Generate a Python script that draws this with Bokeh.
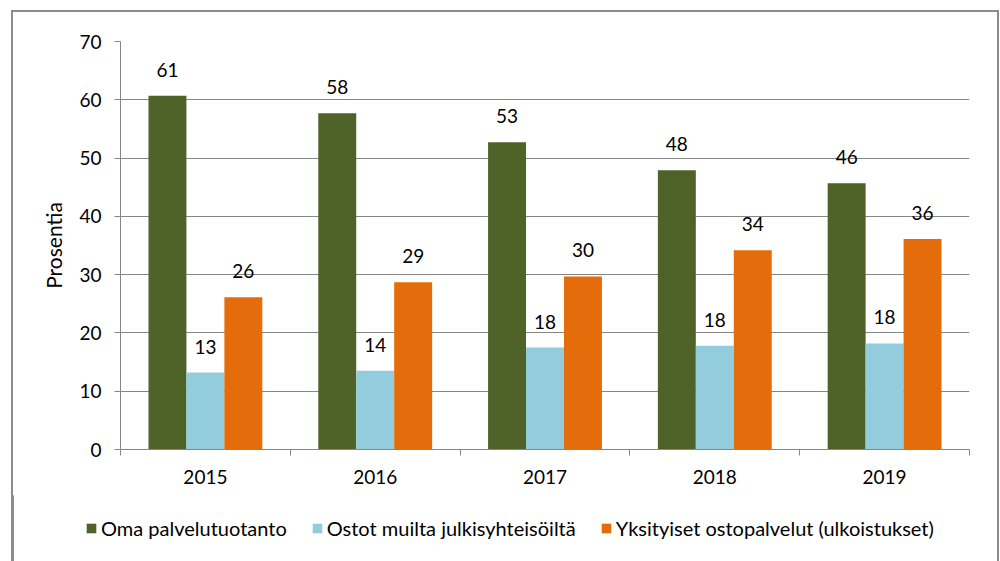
from bokeh.plotting import figure
from bokeh.layouts import column
from bokeh.models import ColumnDataSource, FixedTicker, Legend, LegendItem
from bokeh.core.properties import value
from bokeh.embed import file_html
from bokeh.resources import INLINE

# ---- data ----
years = ["2015", "2016", "2017", "2018", "2019"]
oma = [60.7, 57.7, 52.7, 47.9, 45.7]
ostot = [13.2, 13.5, 17.5, 17.8, 18.2]
yksityiset = [26.1, 28.7, 29.7, 34.2, 36.1]
oma_labels = ["61", "58", "53", "48", "46"]
ostot_labels = ["13", "14", "18", "18", "18"]
yks_labels = ["26", "29", "30", "34", "36"]
series_names = ["Oma palvelutuotanto", "Ostot muilta julkisyhteisöiltä",
                "Yksityiset ostopalvelut (ulkoistukset)"]
colors = ["#4F6228", "#93CDDD", "#E46C0A"]
y_ticks = [0, 10, 20, 30, 40, 50, 60, 70]
y_label = "Prosentia"

FONT = "Lato"
FS = "19px"
GRAY = "#868686"

p = figure(width=984, height=483, x_range=(-0.5, 4.5), y_range=(0, 70),
           output_backend="svg", toolbar_location=None,
           min_border_left=107, min_border_right=28, min_border_top=29,
           min_border_bottom=46)
p.frame_align = False
p.outline_line_color = None
p.xgrid.grid_line_color = None
p.ygrid.grid_line_color = GRAY
p.ygrid.grid_line_width = 1

bw = 0.2235
offsets = [-bw, 0.0, bw]
series_vals = [oma, ostot, yksityiset]
series_labels = [oma_labels, ostot_labels, yks_labels]

for vals, labs, off, col in zip(series_vals, series_labels, offsets, colors):
    src = ColumnDataSource(dict(x=[i + off for i in range(len(years))], top=vals, lab=labs))
    p.vbar(x="x", top="top", width=bw, bottom=0, source=src,
           fill_color=col, line_color=None)
    p.text(x="x", y="top", text="lab", source=src, text_align="center",
           text_baseline="alphabetic", y_offset=-26,
           text_font=value(FONT), text_font_size=FS, text_color="#000000")

# x axis
xa = p.xaxis[0]
xa.ticker = FixedTicker(ticks=list(range(len(years))),
                        minor_ticks=[i - 0.5 for i in range(len(years) + 1)])
xa.major_label_overrides = {i: y for i, y in enumerate(years)}
xa.major_tick_line_color = None
xa.major_tick_out = 6
xa.major_tick_in = 0
xa.minor_tick_line_color = GRAY
xa.minor_tick_out = 6
xa.minor_tick_in = 0
xa.axis_line_color = GRAY
xa.major_label_text_font = FONT
xa.major_label_text_font_size = FS
xa.major_label_text_color = "#000000"
xa.major_label_standoff = 14

# y axis
ya = p.yaxis[0]
ya.ticker = FixedTicker(ticks=y_ticks)
ya.minor_tick_line_color = None
ya.major_tick_out = 6
ya.major_tick_in = 0
ya.major_tick_line_color = GRAY
ya.axis_line_color = GRAY
ya.major_label_text_font = FONT
ya.major_label_text_font_size = FS
ya.major_label_text_color = "#000000"
ya.major_label_standoff = 13
ya.axis_label = y_label
ya.axis_label_text_font = FONT
ya.axis_label_text_font_size = "21px"
ya.axis_label_text_font_style = "normal"
ya.axis_label_text_color = "#000000"
ya.axis_label_standoff = 10

# legend strip (own figure so the legend is not clipped by the chart frame)
lg = figure(width=984, height=66, x_range=(100, 101), y_range=(0, 1),
            output_backend="svg", toolbar_location=None,
            x_axis_location=None, y_axis_location=None,
            min_border=0, min_border_left=0, min_border_right=0,
            min_border_top=0, min_border_bottom=0)
lg.frame_align = False
lg.outline_line_color = None
lg.grid.grid_line_color = None
leg_renderers = []
for vals, off, col in zip(series_vals, offsets, colors):
    # legend proxies: same data, outside the visible range of this strip
    leg_renderers.append(lg.vbar(x=[i + off for i in range(len(years))], top=vals,
                                 width=bw, fill_color=col, line_color=None))
legend = Legend(items=[LegendItem(label=n, renderers=[r]) for n, r in zip(series_names, leg_renderers)],
                orientation="horizontal", location=(72, 21),
                padding=0, margin=0, spacing=24, label_standoff=4,
                glyph_width=12, glyph_height=12,
                label_text_font=FONT, label_text_font_size="20px",
                label_text_color="#000000",
                border_line_color=None, background_fill_alpha=0)
lg.add_layout(legend, "center")

layout = column(p, lg, spacing=0,
                styles={"border-top": "2px solid #8c8c8c", "border-left": "2px solid #8c8c8c",
                        "border-right": "2px solid #8c8c8c", "margin-left": "11px",
                        "margin-top": "10px"})

open("out.html", "w").write(file_html(layout, INLINE))
